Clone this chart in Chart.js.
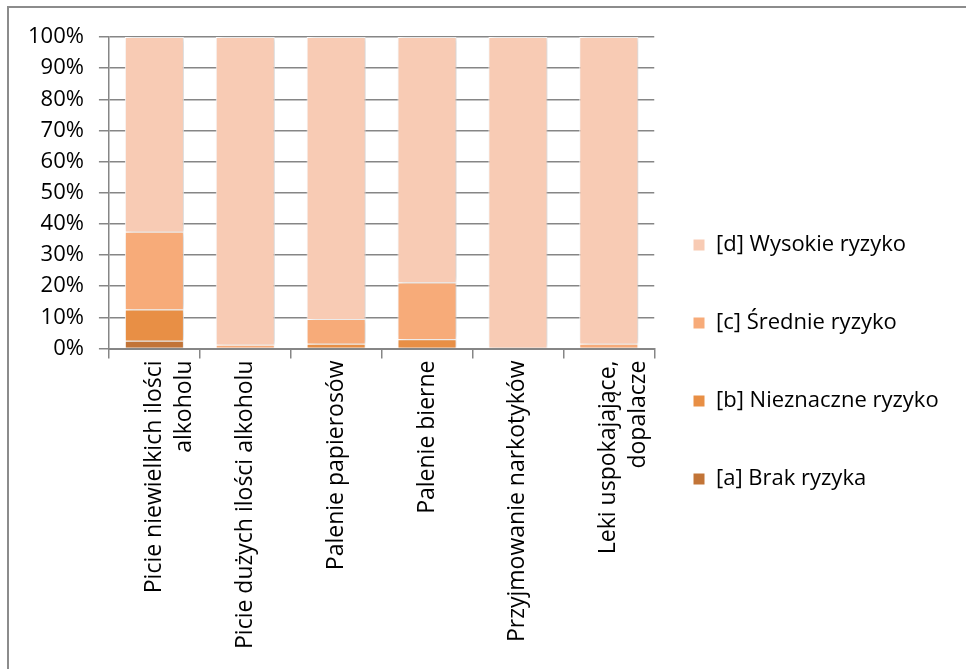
<!DOCTYPE html>
<html>
<head>
<meta charset="utf-8">
<script src="https://cdn.jsdelivr.net/npm/chart.js@4/dist/chart.umd.min.js"></script>
<style>
  html, body { margin: 0; padding: 0; background: #fff; }
  #wrap { position: relative; width: 966px; height: 669px; overflow: hidden; }
  #frame { position: absolute; left: 7px; top: 6px; right: -10px; bottom: -10px;
           border-top: 2px solid #8c8c8c; border-left: 2px solid #8c8c8c; }
  canvas { position: absolute; left: 0; top: 0; }
</style>
</head>
<body>
<div id="wrap">
  <div id="frame"></div>
  <canvas id="chart" width="966" height="669"></canvas>
</div>
<script>
const categories = [
  ['Picie niewielkich ilości', 'alkoholu'],
  'Picie dużych ilości alkoholu',
  'Palenie papierosów',
  'Palenie bierne',
  'Przyjmowanie narkotyków',
  ['Leki uspokajające,', 'dopalacze']
];

// percentages per category
const brakRyzyka      = [2.5, 0,   0,    0,    0,   0];
const nieznaczne      = [10,  0,   1.5,  3,    0,   0];
const srednie         = [25,  1.2, 8,    18.2, 0,   1.5];
const wysokie         = [62.5, 98.8, 90.5, 78.8, 100, 98.5];

const seriesNames = ['[a] Brak ryzyka', '[b] Nieznaczne ryzyko', '[c] Średnie ryzyko', '[d] Wysokie ryzyko'];
const seriesColors = ['#c27437', '#e88f45', '#f7ab79', '#f8cbb4'];
const yTicks = [0, 10, 20, 30, 40, 50, 60, 70, 80, 90, 100];

const font = 'Open Sans';
const gridColor = '#868686';

const barShadow = {
  id: 'barShadow',
  beforeDatasetsDraw(chart) {
    const ctx = chart.ctx;
    ctx.save();
    ctx.shadowColor = 'rgba(0,0,0,0.18)';
    ctx.shadowBlur = 6;
    ctx.shadowOffsetX = 3;
  },
  afterDatasetsDraw(chart) {
    chart.ctx.restore();
  }
};

// put the legend where the reference has it
const legendPlace = {
  id: 'legendPlace',
  afterLayout(chart) {
    const lg = chart.legend;
    lg.left = 637;
    lg.right = 966;
    lg.width = lg.right - lg.left;
    lg.top += 18;
    lg.bottom += 18;
  }
};

new Chart(document.getElementById('chart'), {
  type: 'bar',
  data: {
    labels: categories,
    datasets: [brakRyzyka, nieznaczne, srednie, wysokie].map((values, i) => ({
      label: seriesNames[i],
      data: values,
      backgroundColor: seriesColors[i],
      borderColor: '#ffffff',
      borderWidth: 1,
      categoryPercentage: 1,
      barPercentage: 0.65
    }))
  },
  options: {
    responsive: false,
    animation: false,
    layout: { padding: { left: 13, top: 37, right: 98, bottom: 18 } },
    scales: {
      x: {
        stacked: true,
        grid: { drawOnChartArea: false, drawTicks: true, tickLength: 10, color: gridColor, lineWidth: 1.5 },
        border: { color: gridColor, width: 2 },
        ticks: {
          color: '#000',
          font: { family: font, size: 23, lineHeight: 1.3 },
          minRotation: 90,
          maxRotation: 90,
          autoSkip: false,
          padding: 2
        }
      },
      y: {
        stacked: true,
        min: 0,
        max: 100,
        afterBuildTicks(axis) { axis.ticks = yTicks.map(v => ({ value: v })); },
        grid: { color: gridColor, lineWidth: 1.5, tickLength: 10 },
        border: { color: gridColor, width: 1.5 },
        ticks: {
          color: '#000',
          font: { family: font, size: 22 },
          padding: 15,
          callback: v => v + '%'
        }
      }
    },
    plugins: {
      legend: {
        position: 'right',
        reverse: true,
        labels: {
          color: '#000',
          font: { family: font, size: 22 },
          boxWidth: 12,
          boxHeight: 12,
          padding: 56
        }
      },
      tooltip: { enabled: false }
    }
  },
  plugins: [barShadow, legendPlace]
});
</script>
</body>
</html>
